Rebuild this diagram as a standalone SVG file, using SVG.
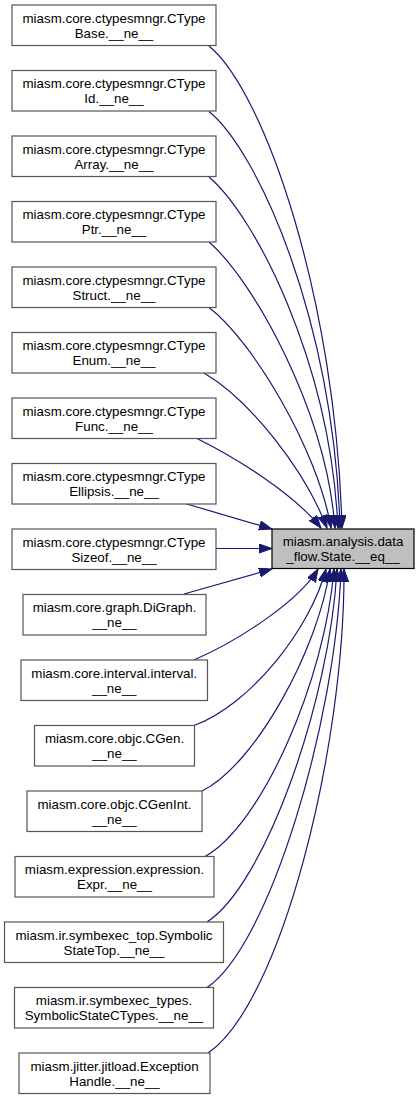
<svg xmlns="http://www.w3.org/2000/svg" width="420" height="1097" viewBox="0 0 420 1097">
<style>
.n rect{fill:#ffffff;stroke:#555555;stroke-width:1.2}
.c rect{fill:#bfbfbf;stroke:#000000;stroke-width:1.2}
text{font-family:"Liberation Sans",Arial,sans-serif;font-size:13.33px;fill:#000000;text-anchor:middle}
.e path{fill:none;stroke:#191970;stroke-width:1.2}
</style>
<defs>
<marker id="ah" markerUnits="userSpaceOnUse" markerWidth="15" markerHeight="11" refX="13" refY="4.6" orient="auto">
<path d="M0,0 L13,4.6 L0,9.2 z" fill="#191970" stroke="#191970" stroke-width="1"/>
</marker>
</defs>
<rect width="420" height="1097" fill="#ffffff"/>
<g class="e" id="edges">
<path marker-end="url(#ah)" d="M209,46 C265,92 336,300 342,528"/>
<path marker-end="url(#ah)" d="M209,111.5 C257,150 334,320 340,528"/>
<path marker-end="url(#ah)" d="M209,177 C254,215 330,360 338,528"/>
<path marker-end="url(#ah)" d="M209,242 C253,280 326,410 335,528"/>
<path marker-end="url(#ah)" d="M209,307.5 C252,340 318,450 331,528"/>
<path marker-end="url(#ah)" d="M204,373 C250,400 305,470 327,528"/>
<path marker-end="url(#ah)" d="M197,438.5 C240,460 295,495 321,528"/>
<path marker-end="url(#ah)" d="M185,503.5 L272,529"/>
<path marker-end="url(#ah)" d="M216,548.5 L272,548.5"/>
<path marker-end="url(#ah)" d="M184,594 L272,569"/>
<path marker-end="url(#ah)" d="M194,660 C240,640 300,600 318,569"/>
<path marker-end="url(#ah)" d="M194,725.5 C250,705 310,630 326,569"/>
<path marker-end="url(#ah)" d="M202,791 C255,765 318,650 330,569"/>
<path marker-end="url(#ah)" d="M205,856.5 C262,825 325,680 334,569"/>
<path marker-end="url(#ah)" d="M207,922 C265,885 330,700 337,569"/>
<path marker-end="url(#ah)" d="M207,987.5 C270,945 336,720 341,569"/>
<path marker-end="url(#ah)" d="M208,1053 C280,1005 345,750 344,569"/>
</g>
<g class="c" id="node_center"><rect x="272" y="529" width="142" height="39.5"/><text x="343" y="545.5">miasm.analysis.data</text><text x="343" y="560.5">_flow.State.__eq__</text></g>
<g class="n" id="node0"><rect x="12" y="5" width="204" height="40.5"/><text x="114" y="22.5">miasm.core.ctypesmngr.CType</text><text x="114" y="37.5">Base.__ne__</text></g>
<g class="n" id="node1"><rect x="12" y="70.5" width="204" height="40.5"/><text x="114" y="88">miasm.core.ctypesmngr.CType</text><text x="114" y="103">Id.__ne__</text></g>
<g class="n" id="node2"><rect x="12" y="136" width="204" height="40.5"/><text x="114" y="153.5">miasm.core.ctypesmngr.CType</text><text x="114" y="168.5">Array.__ne__</text></g>
<g class="n" id="node3"><rect x="12" y="201.5" width="204" height="40.5"/><text x="114" y="219">miasm.core.ctypesmngr.CType</text><text x="114" y="234">Ptr.__ne__</text></g>
<g class="n" id="node4"><rect x="12" y="267" width="204" height="40.5"/><text x="114" y="284.5">miasm.core.ctypesmngr.CType</text><text x="114" y="299.5">Struct.__ne__</text></g>
<g class="n" id="node5"><rect x="12" y="332.5" width="204" height="40.5"/><text x="114" y="350">miasm.core.ctypesmngr.CType</text><text x="114" y="365">Enum.__ne__</text></g>
<g class="n" id="node6"><rect x="12" y="398" width="204" height="40.5"/><text x="114" y="415.5">miasm.core.ctypesmngr.CType</text><text x="114" y="430.5">Func.__ne__</text></g>
<g class="n" id="node7"><rect x="12" y="463.5" width="204" height="40.5"/><text x="114" y="481">miasm.core.ctypesmngr.CType</text><text x="114" y="496">Ellipsis.__ne__</text></g>
<g class="n" id="node8"><rect x="12" y="529" width="204" height="40.5"/><text x="114" y="546.5">miasm.core.ctypesmngr.CType</text><text x="114" y="561.5">Sizeof.__ne__</text></g>
<g class="n" id="node9"><rect x="23" y="594.5" width="183" height="40.5"/><text x="114.5" y="612">miasm.core.graph.DiGraph.</text><text x="114.5" y="627">__ne__</text></g>
<g class="n" id="node10"><rect x="21" y="660" width="186.5" height="40.5"/><text x="114.25" y="677.5">miasm.core.interval.interval.</text><text x="114.25" y="692.5">__ne__</text></g>
<g class="n" id="node11"><rect x="34.5" y="725.5" width="160" height="40.5"/><text x="114.5" y="743">miasm.core.objc.CGen.</text><text x="114.5" y="758">__ne__</text></g>
<g class="n" id="node12"><rect x="27" y="791" width="175" height="40.5"/><text x="114.5" y="808.5">miasm.core.objc.CGenInt.</text><text x="114.5" y="823.5">__ne__</text></g>
<g class="n" id="node13"><rect x="15" y="856.5" width="199" height="40.5"/><text x="114.5" y="874">miasm.expression.expression.</text><text x="114.5" y="889">Expr.__ne__</text></g>
<g class="n" id="node14"><rect x="4.5" y="922" width="219" height="40.5"/><text x="114" y="939.5">miasm.ir.symbexec_top.Symbolic</text><text x="114" y="954.5">StateTop.__ne__</text></g>
<g class="n" id="node15"><rect x="14.5" y="987.5" width="199" height="40.5"/><text x="114" y="1005">miasm.ir.symbexec_types.</text><text x="114" y="1020">SymbolicStateCTypes.__ne__</text></g>
<g class="n" id="node16"><rect x="19" y="1053" width="191" height="40.5"/><text x="114.5" y="1070.5">miasm.jitter.jitload.Exception</text><text x="114.5" y="1085.5">Handle.__ne__</text></g>
</svg>
